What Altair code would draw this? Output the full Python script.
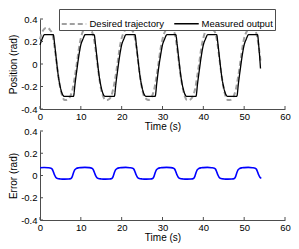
import altair as alt
import pandas as pd

# ---------------- data ----------------
x_ticks = [0, 10, 20, 30, 40, 50, 60]
y_ticks = [-0.4, -0.2, 0, 0.2, 0.4]
series_names = ["Desired trajectory", "Measured output"]

# desired trajectory, sampled every 0.5 s from 0 to 54 s
desired_v = [
    0.22, 0.28, 0.31, 0.32, 0.32, 0.30, 0.27, 0.17, 0.03, -0.11, -0.22, -0.29, -0.32, -0.32, -0.31, -0.28, -0.22, -0.12, 0.00, 0.13,
    0.23, 0.29, 0.31, 0.32, 0.32, 0.30, 0.26, 0.16, 0.02, -0.12, -0.23, -0.29, -0.32, -0.32, -0.31, -0.28, -0.21, -0.11, 0.01, 0.14,
    0.23, 0.28, 0.31, 0.32, 0.31, 0.30, 0.27, 0.17, 0.03, -0.11, -0.22, -0.29, -0.31, -0.32, -0.31, -0.28, -0.22, -0.12, 0.00, 0.13,
    0.22, 0.28, 0.31, 0.32, 0.32, 0.30, 0.27, 0.16, 0.02, -0.12, -0.22, -0.29, -0.32, -0.32, -0.31, -0.28, -0.22, -0.11, 0.01, 0.14,
    0.23, 0.29, 0.31, 0.32, 0.32, 0.30, 0.27, 0.17, 0.03, -0.11, -0.22, -0.29, -0.32, -0.32, -0.31, -0.28, -0.22, -0.12, 0.00, 0.13,
    0.23, 0.28, 0.31, 0.32, 0.32, 0.30, 0.27, 0.17, 0.03,
]
desired_t = [i * 0.5 for i in range(len(desired_v))]

measured_t = [
    0.0, 0.5, 1.1, 3.25, 3.6, 4.0, 4.5, 5.0, 5.5, 5.9, 8.2, 8.6, 9.0, 9.5,
    10.0, 10.5, 11.1, 13.25, 13.6, 14.0, 14.5, 15.0, 15.5, 15.9, 18.2, 18.6, 19.0, 19.5,
    20.0, 20.5, 21.1, 23.25, 23.6, 24.0, 24.5, 25.0, 25.5, 25.9, 28.2, 28.6, 29.0, 29.5,
    30.0, 30.5, 31.1, 33.25, 33.6, 34.0, 34.5, 35.0, 35.5, 35.9, 38.2, 38.6, 39.0, 39.5,
    40.0, 40.5, 41.1, 43.25, 43.6, 44.0, 44.5, 45.0, 45.5, 45.9, 48.2, 48.6, 49.0, 49.5,
    50.0, 50.5, 51.1, 53.25, 53.6, 54.0,
]
measured_v = [
    0.17, 0.22, 0.262, 0.262, 0.17, 0.04, -0.11, -0.21, -0.27, -0.287, -0.287, -0.17, -0.06, 0.07,
    0.17, 0.22, 0.262, 0.262, 0.17, 0.04, -0.11, -0.21, -0.27, -0.287, -0.287, -0.17, -0.06, 0.07,
    0.17, 0.22, 0.262, 0.262, 0.17, 0.04, -0.11, -0.21, -0.27, -0.287, -0.287, -0.17, -0.05, 0.07,
    0.17, 0.22, 0.262, 0.262, 0.17, 0.04, -0.11, -0.21, -0.27, -0.287, -0.287, -0.17, -0.06, 0.07,
    0.17, 0.22, 0.262, 0.262, 0.17, 0.04, -0.11, -0.21, -0.27, -0.287, -0.287, -0.17, -0.06, 0.07,
    0.17, 0.22, 0.262, 0.262, 0.15, -0.04,
]

error_t = [
    0.0, 1.0, 2.0, 2.7, 3.0, 3.3, 3.6, 3.9, 4.3, 5.0, 6.0, 7.0, 7.6, 7.9, 8.2, 8.5, 8.9, 9.5,
    10.0, 11.0, 12.0, 12.7, 13.0, 13.3, 13.6, 13.9, 14.3, 15.0, 16.0, 17.0, 17.6, 17.9, 18.2, 18.5, 18.9, 19.5,
    20.0, 21.0, 22.0, 22.7, 23.0, 23.3, 23.6, 23.9, 24.3, 25.0, 26.0, 27.0, 27.6, 27.9, 28.2, 28.5, 28.9, 29.5,
    30.0, 31.0, 32.0, 32.7, 33.0, 33.3, 33.6, 33.9, 34.3, 35.0, 36.0, 37.0, 37.6, 37.9, 38.2, 38.5, 38.9, 39.5,
    40.0, 41.0, 42.0, 42.7, 43.0, 43.3, 43.6, 43.9, 44.3, 45.0, 46.0, 47.0, 47.6, 47.9, 48.2, 48.5, 48.9, 49.5,
    50.0, 51.0, 52.0, 52.7, 53.0, 53.3, 53.6, 53.9, 54.2,
]
error_v = [
    0.070, 0.072, 0.070, 0.066, 0.056, 0.030, 0.002, -0.018, -0.027, -0.031, -0.033, -0.032, -0.027, -0.010, 0.024, 0.050, 0.063, 0.069,
    0.071, 0.073, 0.071, 0.066, 0.055, 0.029, 0.001, -0.018, -0.027, -0.031, -0.033, -0.032, -0.027, -0.010, 0.024, 0.050, 0.063, 0.069,
    0.071, 0.073, 0.070, 0.066, 0.056, 0.030, 0.002, -0.018, -0.027, -0.031, -0.033, -0.032, -0.027, -0.010, 0.024, 0.050, 0.063, 0.069,
    0.071, 0.073, 0.071, 0.066, 0.056, 0.030, 0.002, -0.018, -0.027, -0.031, -0.033, -0.032, -0.027, -0.010, 0.024, 0.050, 0.063, 0.069,
    0.071, 0.073, 0.070, 0.066, 0.056, 0.030, 0.002, -0.018, -0.027, -0.031, -0.033, -0.032, -0.027, -0.010, 0.024, 0.050, 0.063, 0.069,
    0.071, 0.073, 0.070, 0.066, 0.056, 0.030, 0.002, -0.018, -0.026,
]

# ---------------- tables ----------------
pos_df = pd.concat([
    pd.DataFrame({"t": desired_t, "v": desired_v, "s": series_names[0]}),
    pd.DataFrame({"t": measured_t, "v": measured_v, "s": series_names[1]}),
], ignore_index=True)
err_df = pd.DataFrame({"t": error_t, "v": error_v})
xt_df = pd.DataFrame({"t": x_ticks})
yt_df = pd.DataFrame({"v": y_ticks})

FONT = "Liberation Sans"
AX = "#4d4d4d"
W = 245
H_TOP = 90
H_BOT = 89

label_expr = "datum.value == 0 ? '0' : (datum.value < 0 ? '-' : '') + format(abs(datum.value), '.1f')"


def x_enc():
    return alt.X(
        "t:Q",
        scale=alt.Scale(domain=[0, 60], nice=False),
        axis=alt.Axis(values=x_ticks, title="Time (s)", ticks=False, grid=False,
                      labelPadding=2, titlePadding=1, domainColor=AX, labelFlush=False,
                      labelOverlap=False),
    )


def y_enc(title):
    return alt.Y(
        "v:Q",
        scale=alt.Scale(domain=[-0.4, 0.4], nice=False),
        axis=alt.Axis(values=y_ticks, title=title, ticks=False, grid=False,
                      labelPadding=3, titlePadding=2, domainColor=AX, labelExpr=label_expr,
                      labelFlush=False, labelOverlap=False),
    )


def tick_layers(h, title):
    xr = alt.Chart(xt_df).mark_rule(color=AX, strokeWidth=1).encode(
        x=x_enc(),
        y=alt.value(h), y2=alt.value(h - 3),
    )
    yr = alt.Chart(yt_df).mark_rule(color=AX, strokeWidth=1).encode(
        y=y_enc(title),
        x=alt.value(0), x2=alt.value(3),
    )
    return xr, yr


leg = alt.Legend(
    title=None, orient="none", legendX=19, legendY=-10, direction="horizontal",
    symbolType="stroke", symbolSize=600, symbolStrokeWidth=1.5,
    strokeColor=AX, fillColor="white", padding=1.5, labelFontSize=9.5,
    labelFont=FONT, columnPadding=7, labelOffset=2,
)

lines = alt.Chart(pos_df).mark_line(interpolate="monotone").encode(
    x=x_enc(),
    y=y_enc("Position (rad)"),
    color=alt.Color("s:N", scale=alt.Scale(domain=series_names, range=["#a0a0a0", "#000000"]), legend=leg),
    strokeDash=alt.StrokeDash("s:N", scale=alt.Scale(domain=series_names, range=[[5, 3], [1, 0]]), legend=leg),
    strokeWidth=alt.StrokeWidth("s:N", scale=alt.Scale(domain=series_names, range=[2, 1.3]), legend=None),
    order=alt.Order("t:Q"),
)
xr1, yr1 = tick_layers(H_TOP, "Position (rad)")
top = alt.layer(lines, xr1, yr1).properties(width=W, height=H_TOP)

err = alt.Chart(err_df).mark_line(interpolate="monotone", color="#0000ff", strokeWidth=1.6).encode(
    x=x_enc(),
    y=y_enc("Error (rad)"),
    order=alt.Order("t:Q"),
)
xr2, yr2 = tick_layers(H_BOT, "Error (rad)")
bottom = alt.layer(err, xr2, yr2).properties(width=W, height=H_BOT)

chart = alt.vconcat(top, bottom, spacing=22, bounds="flush").properties(
    padding={"left": 0, "top": 0, "right": 0, "bottom": 0}
).configure_view(stroke=None).configure_axis(
    labelFont=FONT, titleFont=FONT, labelFontSize=9.5, titleFontSize=10,
    titleFontWeight="normal", labelColor="#000000", titleColor="#000000",
).configure_legend(labelFont=FONT)

chart.save("out.html", embed_options={"renderer": "svg", "actions": False})
